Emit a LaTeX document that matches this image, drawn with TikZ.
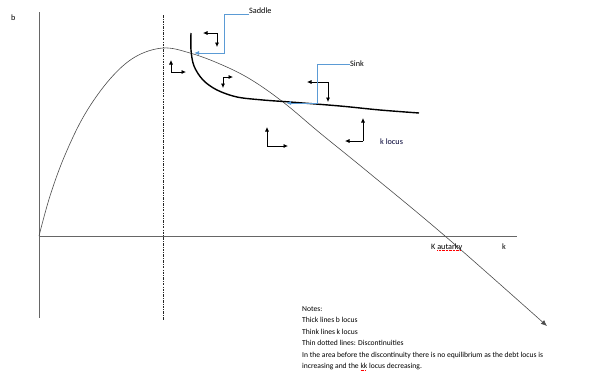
\documentclass[tikz,border=0pt]{standalone}
\usepackage{fontspec}
\setmainfont{Carlito}
\usetikzlibrary{arrows.meta}
% red spell-check style underline
\newsavebox\spellbox
\newcommand\spellmark[1]{\sbox\spellbox{#1}\leavevmode\rlap{\color{red}\raisebox{-1.6pt}{\hbox to \wd\spellbox{\leaders\hbox{\rule{0.9pt}{0.5pt}\kern0.5pt}\hfill}}}\usebox\spellbox}
\definecolor{calloutblue}{HTML}{5B9BD5}
\begin{document}
\begin{tikzpicture}[x=1pt,y=-1pt,
  axis/.style={draw=black!60, line width=1pt},
  klocus/.style={draw=black!70, line width=0.6pt},
  blocus/.style={draw=black, line width=1.4pt},
  disc/.style={draw=black!85, line width=0.6pt, dash pattern=on 2.5pt off 1.2pt on 0.8pt off 1.2pt},
  flow/.style={draw=black, line width=0.7pt, -{Latex[length=4.5pt,width=4pt]}},
  callout/.style={draw=calloutblue, line width=0.8pt, -{Latex[length=5pt,width=4pt]}},
  lbl/.style={font=\fontsize{8.2}{9}\selectfont, inner sep=0pt, anchor=west},
]
\useasboundingbox (0,0) rectangle (611,373);

% axes
\coordinate (origin) at (39,236);
\coordinate (ytop) at (39,12);
\coordinate (ybot) at (39,318);
\coordinate (xend) at (517,236);
\draw[axis] (ytop) -- (ybot);
\draw[axis] (origin) -- (xend);

% discontinuity
\coordinate (dtop) at (163,15);
\coordinate (dbot) at (163,320);
\draw[disc] (dtop) -- (dbot);

% k locus (thin)
\draw[klocus, -{Latex[length=6pt,width=5pt]}] plot[smooth, tension=0.6] coordinates {
  (39,236) (50,196) (65,155) (85,114) (110,79) (135,57) (163,48) (190,53)
  (220,64) (250,79) (283,102) (320,133) (368,172) (445,236) (547,326)};

% b locus (thick)
\draw[blocus] plot[smooth, tension=0.55] coordinates {
  (191,33) (191,50) (194,66) (203,80) (217,90) (237,97) (263,100) (290,102)
  (340,106) (380,110) (419,113)};

% phase arrows
\coordinate (p1) at (217,33);
\draw[flow] (p1) -- ++(-14,0);
\draw[flow] (p1) -- ++(0,14);
\coordinate (p2) at (171,72);
\draw[flow] (p2) -- ++(0,-12);
\draw[flow] (p2) -- ++(15,0);
\coordinate (p3) at (223,77);
\draw[flow] (p3) -- ++(10,0);
\draw[flow] (p3) -- ++(0,11);
\coordinate (p4) at (328,82);
\draw[flow] (p4) -- ++(-21,0);
\draw[flow] (p4) -- ++(0,20);
\coordinate (p5) at (267,146);
\draw[flow] (p5) -- ++(0,-19);
\draw[flow] (p5) -- ++(21,0);
\coordinate (p6) at (363,141);
\draw[flow] (p6) -- ++(0,-23);
\draw[flow] (p6) -- ++(-18,0);

% labels
\node[lbl] (blab) at (11,18) {b};
\node[lbl] (saddle) at (249,11) {Saddle};
\node[lbl] (sink) at (350,64) {Sink};
\node[lbl, text=black!80!blue] (klab) at (380,142) {k locus};
\node[lbl] (kaut) at (431,247) {K \spellmark{autarky}};
\node[lbl] (klabx) at (502,247) {k};

% callouts
\coordinate (sadtarget) at (194,53);
\coordinate (sinktarget) at (286,103);
\draw[callout] (saddle.west |- 0,14) -| (224,53) -- (sadtarget);
\draw[callout] (sink.west) -| (317,103) -- (sinktarget);

% notes
\node[font=\fontsize{7.6}{11.5}\selectfont, align=left, anchor=north west, inner sep=0pt] (notes) at (302,306) {
Notes:\\
Thick lines b locus\\
Think lines k locus\\
Thin dotted lines: Discontinuities\\
In the area before the discontinuity there is no equilibrium as the debt locus is\\
increasing and the \spellmark{kk} locus decreasing.};
\end{tikzpicture}
\end{document}
